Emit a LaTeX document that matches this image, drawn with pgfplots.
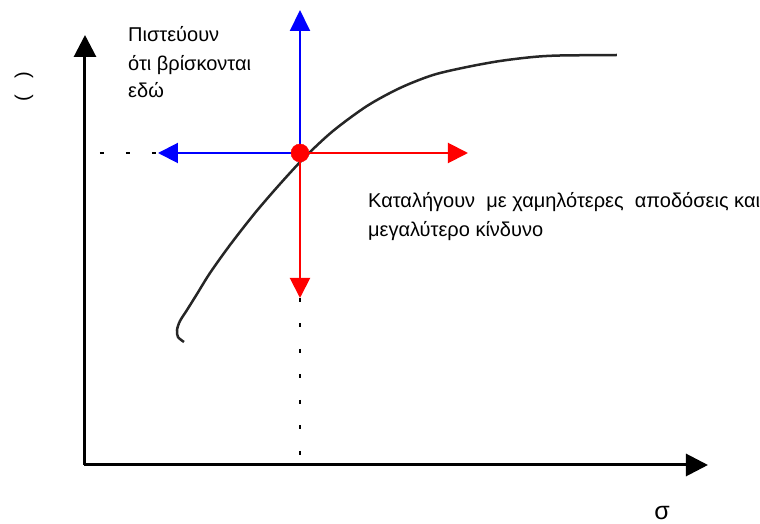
\documentclass[border=0pt]{standalone}
\usepackage{pgfplots}
\pgfplotsset{compat=1.18}
\usepackage{fontspec}
\setmainfont{Liberation Sans}
\usetikzlibrary{arrows.meta}

\definecolor{pureblue}{RGB}{0,0,255}
\definecolor{purered}{RGB}{255,0,0}
\tikzset{lbl/.style={font=\fontsize{20}{28}\selectfont, inner sep=0pt}}

\begin{document}
\begin{tikzpicture}
\begin{axis}[
  scale only axis, width=760pt, height=524pt,
  xmin=0, xmax=760, ymin=0, ymax=524, y dir=reverse,
  axis lines=none, ticks=none, clip=false,
]
\path (rel axis cs:0,0) rectangle (rel axis cs:1,1);

% axes with arrow heads
\addplot[black, line width=3pt, -{Triangle[length=22pt,width=22pt]}]
  coordinates {(85,465) (85,35)};
\addplot[black, line width=3pt, -{Triangle[length=22pt,width=22pt]}]
  coordinates {(84,465) (708,465)};

% guide lines from the point to the axes
\addplot[black, line width=2pt, dash pattern=on 4pt off 22pt]
  coordinates {(100,153) (160,153)};
\addplot[black, line width=2pt, dash pattern=on 4pt off 21.5pt]
  coordinates {(300,298) (300,462)};

% efficient frontier
\addplot[black!85, line width=2.5pt, smooth, tension=0.5]
  coordinates {
    (184,342) (178,337) (177,330) (180,321) (187,310) (197,294)
    (210,273) (230,245) (255,213) (280,184) (305,157) (333,131)
    (367,106) (400,88) (433,75) (467,67) (500,61) (533,57)
    (560,55.5) (617,55)
  };

% the portfolio point
\addplot[only marks, mark=*, mark size=9pt, purered, mark options={draw=purered, fill=purered}]
  coordinates {(300,153)};

% directions
\addplot[purered, line width=2pt, -{Triangle[length=20pt,width=20pt]}]
  coordinates {(300,153) (468,153)};
\addplot[purered, line width=2pt, -{Triangle[length=20pt,width=20pt]}]
  coordinates {(300,153) (300,298)};
\addplot[pureblue, line width=2pt, -{Triangle[length=21pt,width=20pt]}]
  coordinates {(300,153) (300,10)};
\addplot[pureblue, line width=2pt, -{Triangle[length=20pt,width=20pt]}]
  coordinates {(300,153) (158,153)};

% labels
\node[lbl, anchor=base west] at (axis cs:128,42) {Πιστεύουν};
\node[lbl, anchor=base west] at (axis cs:128,71) {ότι βρίσκονται};
\node[lbl, anchor=base west] at (axis cs:128,98) {εδώ};
\node[lbl, anchor=base west] at (axis cs:368,208) {Καταλήγουν\ \ με χαμηλότερες\ \ αποδόσεις και};
\node[lbl, anchor=base west] at (axis cs:368,237) {μεγαλύτερο κίνδυνο};
\node[lbl, rotate=90] at (axis cs:24,87) {(\hspace{16pt})};
\node[lbl, font=\fontsize{25}{30}\selectfont] at (axis cs:662,513) {σ};
\end{axis}
\end{tikzpicture}
\end{document}
